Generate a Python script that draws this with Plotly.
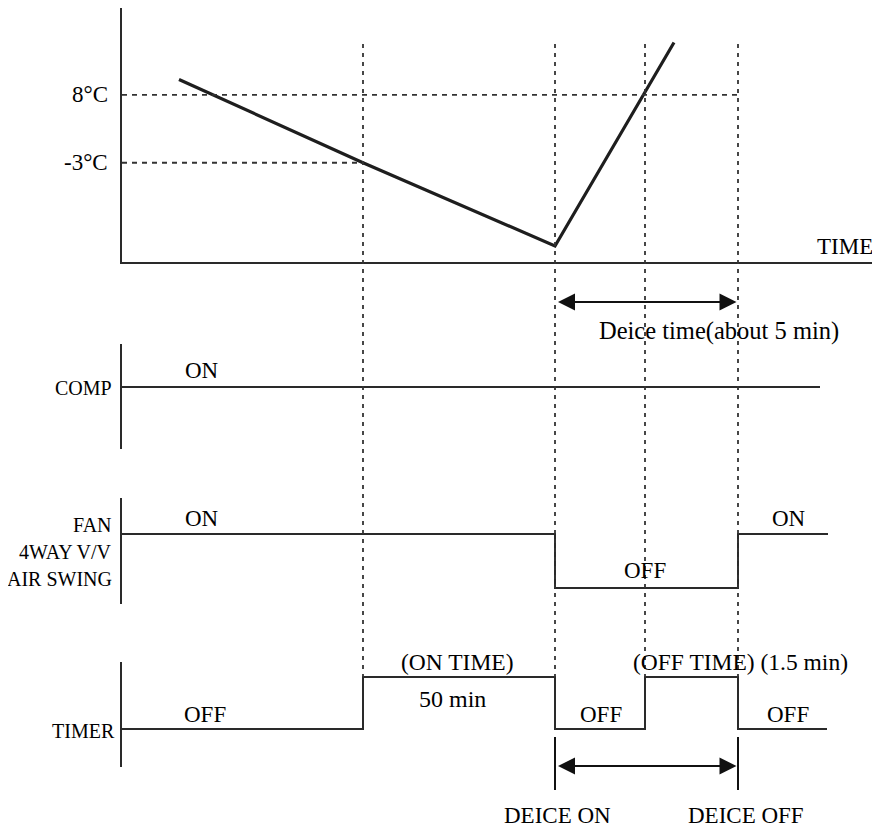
import plotly.graph_objects as go

# ---------------- data ----------------
# time axis in arbitrary units (diagram time)
t_temp = [5.7, 24.1, 43.3, 55.2]          # temperature curve points
temp_c = [10.5, -3.0, -16.5, 16.5]

threshold_vals = [8, -3]
threshold_labels = ["8°C", "-3°C"]
threshold_end_t = [61.6, 24.1]

t_comp = [0, 69.8]
comp_state = [1, 1]

t_fan = [0, 43.3, 61.6, 70.6]
fan_state = [1, 0, 1, 1]

t_timer = [0, 24.1, 43.3, 52.3, 61.6, 70.5]
timer_state = [0, 1, 0, 1, 0, 0]

event_t = [24.1, 43.3, 52.3, 61.6]      # dotted guide lines
deice_on_t = 43.3
deice_off_t = 61.6

# ---------------- figure ----------------
PAD = 8                      # page body margin
W, H = 880 - PAD, 828 - PAD
LEFT = 122 - PAD
FONT = "Liberation Serif"
LC = "#2a2a2a"

def py(p):  # page pixel row -> paper
    return 1 - (p - PAD) / H

def lx(p):  # page pixel column -> paper x
    return (p - PAD - LEFT) / (W - LEFT)

fig = go.Figure()

fig.add_trace(go.Scatter(x=t_temp, y=temp_c, mode="lines",
                         line=dict(color="#1e1e1e", width=3.2), yaxis="y", showlegend=False))
for v, te in zip(threshold_vals, threshold_end_t):
    fig.add_trace(go.Scatter(x=[0, te], y=[v, v], mode="lines",
                             line=dict(color="#333", width=1.8, dash="5px,5px"),
                             yaxis="y", showlegend=False))

fig.add_trace(go.Scatter(x=t_comp, y=comp_state, mode="lines",
                         line=dict(color=LC, width=2), yaxis="y2", showlegend=False))
fig.add_trace(go.Scatter(x=t_fan, y=fan_state, mode="lines", line_shape="hv",
                         line=dict(color=LC, width=2), yaxis="y3", showlegend=False))
fig.add_trace(go.Scatter(x=t_timer, y=timer_state, mode="lines", line_shape="hv",
                         line=dict(color=LC, width=2), yaxis="y4", showlegend=False))

shapes = []
for t in event_t:
    shapes.append(dict(type="line", xref="x", yref="paper", x0=t, x1=t,
                       y0=py(44), y1=py(677),
                       line=dict(color="#333", width=1.8, dash="4px,5px")))
for t in [deice_on_t, deice_off_t]:
    shapes.append(dict(type="line", xref="x", yref="paper", x0=t, x1=t,
                       y0=py(737), y1=py(790), line=dict(color="#111", width=2)))

ann = []
def txt(text, x, y, xref="x", xanchor="center", size=23):
    ann.append(dict(text=text, x=x, y=y, xref=xref, yref="paper",
                    xanchor=xanchor, yanchor="middle", showarrow=False,
                    font=dict(family=FONT, size=size, color="#000")))

# temperature labels
for lab, v in zip(threshold_labels, threshold_vals):
    ann.append(dict(text=lab, x=lx(110), y=v, xref="paper", yref="y",
                    xanchor="right", yanchor="middle", showarrow=False,
                    font=dict(family=FONT, size=23, color="#000")))
txt("TIME", lx(875), py(246), xref="paper", xanchor="right")
txt("Deice time(about 5 min)", 59.7, py(331), size=24.5)
txt("COMP", lx(114), py(388), xref="paper", xanchor="right", size=20)
txt("ON", 8.0, py(371))
txt("FAN", lx(114), py(525), xref="paper", xanchor="right", size=20)
txt("4WAY V/V", lx(114), py(552), xref="paper", xanchor="right", size=20)
txt("AIR SWING", lx(114), py(579), xref="paper", xanchor="right", size=20)
txt("ON", 8.0, py(518))
txt("OFF", 52.3, py(570))
txt("ON", 66.7, py(518))
txt("TIMER", lx(117), py(731), xref="paper", xanchor="right", size=20)
txt("OFF", 8.3, py(714))
txt("(ON TIME)", 33.5, py(662), size=23.5)
txt("50 min", 33.0, py(699), size=24)
txt("OFF", 47.9, py(714))
txt("(OFF TIME) (1.5 min)", 61.8, py(662), size=23.5)
txt("OFF", 66.6, py(714))
txt("DEICE ON", 43.5, py(815))
txt("DEICE OFF", 62.4, py(815))

# double arrows
for yy in [302, 766]:
    ann.append(dict(text="", x=deice_off_t - 0.15, y=py(yy), xref="x", yref="paper",
                    ax=deice_on_t + 0.15, ay=0, axref="x", ayref="pixel",
                    showarrow=True, arrowside="end+start", arrowhead=2,
                    arrowsize=1.7, arrowwidth=2, arrowcolor="#111"))

noax = dict(showgrid=False, zeroline=False, showticklabels=False, ticks="")
fig.update_layout(
    width=W, height=H, margin=dict(l=LEFT, r=0, t=0, b=0),
    paper_bgcolor="white", plot_bgcolor="white",
    xaxis=dict(range=[0, 75.8], anchor="y", showline=True, linecolor=LC,
               linewidth=2, **noax),
    yaxis=dict(domain=[py(262), py(8)], range=[-19.1, 22.1], showline=True,
               linecolor=LC, linewidth=2, anchor="x", **noax),
    yaxis2=dict(domain=[py(449), py(344)], range=[-0.148, 1.796], showline=True,
                linecolor=LC, linewidth=2, anchor="x", **noax),
    yaxis3=dict(domain=[py(604), py(498)], range=[-0.296, 1.667], showline=True,
                linecolor=LC, linewidth=2, anchor="x", **noax),
    yaxis4=dict(domain=[py(767), py(662)], range=[-0.731, 1.2885], showline=True,
                linecolor=LC, linewidth=2, anchor="x", **noax),
    shapes=shapes, annotations=ann, showlegend=False,
)
fig.write_html("out.html")
